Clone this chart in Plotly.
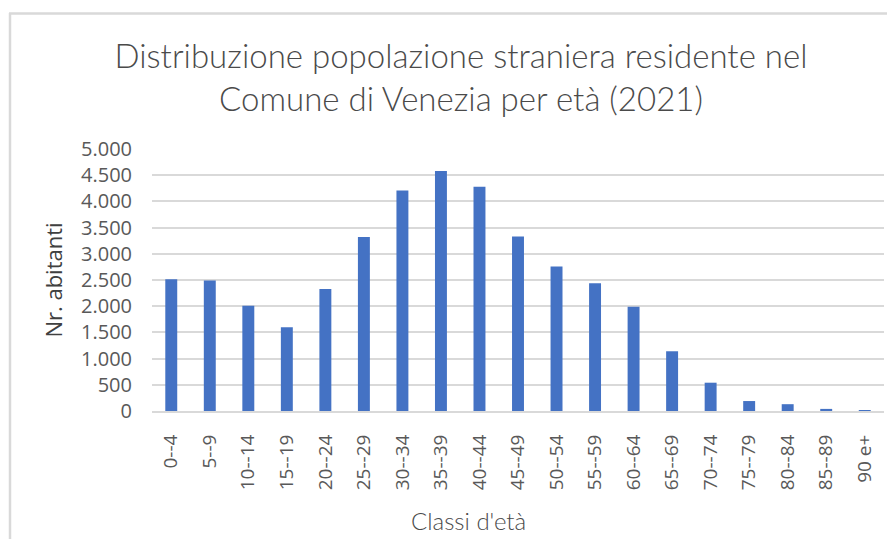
import plotly.graph_objects as go

categories = ["0--4", "5--9", "10--14", "15--19", "20--24", "25--29", "30--34", "35--39",
              "40--44", "45--49", "50--54", "55--59", "60--64", "65--69", "70--74", "75--79",
              "80--84", "85--89", "90 e+"]
values = [2515, 2490, 2010, 1600, 2330, 3320, 4210, 4580, 4280, 3330, 2760, 2440, 1990,
          1140, 540, 190, 130, 40, 5]

title_text = "Distribuzione popolazione straniera residente nel<br>Comune di Venezia per età (2021)"
y_title = "Nr. abitanti"
x_title = "Classi d'età"

OFF = 8  # page body margin
W, H = 895 - 2 * OFF, 547 - 2 * OFF
# plot area in screenshot coords: x 152..884, y 149..411
L, T = 152 - OFF, 149 - OFF
R = W - (884 - OFF)
B = H - (411 - OFF)
pw, ph = W - L - R, H - T - B

def px_x(x):
    return (x - OFF - L) / pw

def px_y(y):
    return (T + ph - (y - OFF)) / ph

fig = go.Figure(go.Bar(
    x=categories, y=values,
    marker=dict(color="#4472C4", line=dict(width=0)),
))

fig.update_layout(
    width=W, height=H,
    margin=dict(l=L, r=R, t=T, b=B),
    paper_bgcolor="white", plot_bgcolor="white",
    separators=",.",
    bargap=0.69,
    showlegend=False,
    title=dict(text=title_text, x=(461 - OFF) / W, xanchor="center", y=1 - 60 / H, yanchor="middle",
               font=dict(family="Lato", size=33, weight=300, color="#4a4a4a")),
    xaxis=dict(
        type="category", tickangle=-90, showgrid=False,
        showline=True, linecolor="#d9d9d9", linewidth=2,
        ticks="", ticklabelstandoff=14,
        tickfont=dict(family="Open Sans", size=19, color="#595959"),
    ),
    yaxis=dict(
        range=[0, 5000], dtick=500, tickformat=",d",
        showgrid=True, gridcolor="#d9d9d9", gridwidth=1.5,
        zeroline=False, showline=False, ticks="", ticklabelstandoff=19,
        tickfont=dict(family="Open Sans", size=20, color="#595959"),
        title=dict(text=y_title, standoff=12,
                   font=dict(family="Open Sans", size=22, color="#404040")),
    ),
    annotations=[dict(text=x_title, xref="paper", yref="paper",
                      x=px_x(468), y=px_y(520), xanchor="center", yanchor="middle",
                      showarrow=False,
                      font=dict(family="Lato", size=24, weight=300, color="#4a4a4a"))],
    shapes=[
        dict(type="line", xref="paper", yref="paper", x0=px_x(9), x1=px_x(900),
             y0=px_y(13.5), y1=px_y(13.5), line=dict(color="#d9d9d9", width=2.5)),
        dict(type="line", xref="paper", yref="paper", x0=px_x(10), x1=px_x(10),
             y0=px_y(13), y1=px_y(560), line=dict(color="#d9d9d9", width=2.5)),
    ],
)

fig.write_html("out.html")
